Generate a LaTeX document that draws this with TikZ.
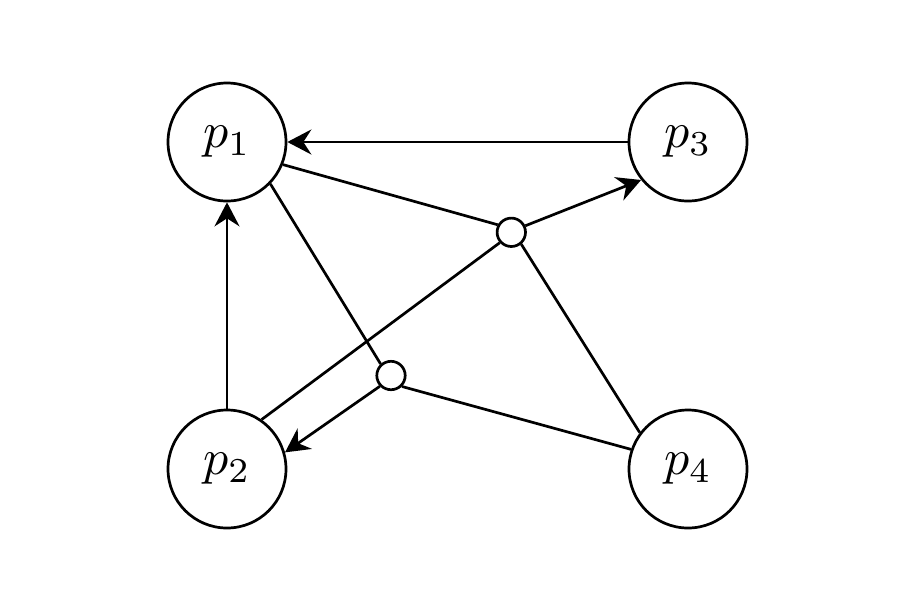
\documentclass[tikz,border=0pt]{standalone}
\usetikzlibrary{arrows.meta}
\newcommand{\biglabel}[1]{\scalebox{2.5}{$#1$}}
\begin{document}
\begin{tikzpicture}[x=0.5pt,y=-0.5pt,
  every path/.style={line width=1.35pt},
  proc/.style={circle,draw,line width=1.35pt,minimum size=59pt,inner sep=0pt},
  hub/.style={circle,draw,line width=1.35pt,minimum size=14.2pt,inner sep=0pt,fill=white},
  arr/.style={-{Stealth[length=12pt,width=12.5pt,inset=4pt]}}]
\useasboundingbox (0,0) rectangle (915,601);
\node[proc] (p1) at (227,142) {\biglabel{p_1}};
\node[proc] (p3) at (688,142) {\biglabel{p_3}};
\node[proc] (p2) at (227,469) {\biglabel{p_2}};
\node[proc] (p4) at (688,469) {\biglabel{p_4}};
\node[hub] (a) at (511.3,232.3) {};
\node[hub] (b) at (391,375.5) {};
\draw[arr] (p3) -- (p1);
\draw[arr] (p2) -- (p1);
\draw (p1.-22.8) -- (a.151);
\draw (p2.55.2) -- (a.222.5);
\draw (p4.143.3) -- (a.-50);
\draw[arr] (a.25) -- (p3.219);
\draw (p1.-44.3) -- (b.132);
\draw (p4.161.9) -- (b.-45);
\draw[arr] (b.224) -- (p2.16.3);
\end{tikzpicture}
\end{document}
